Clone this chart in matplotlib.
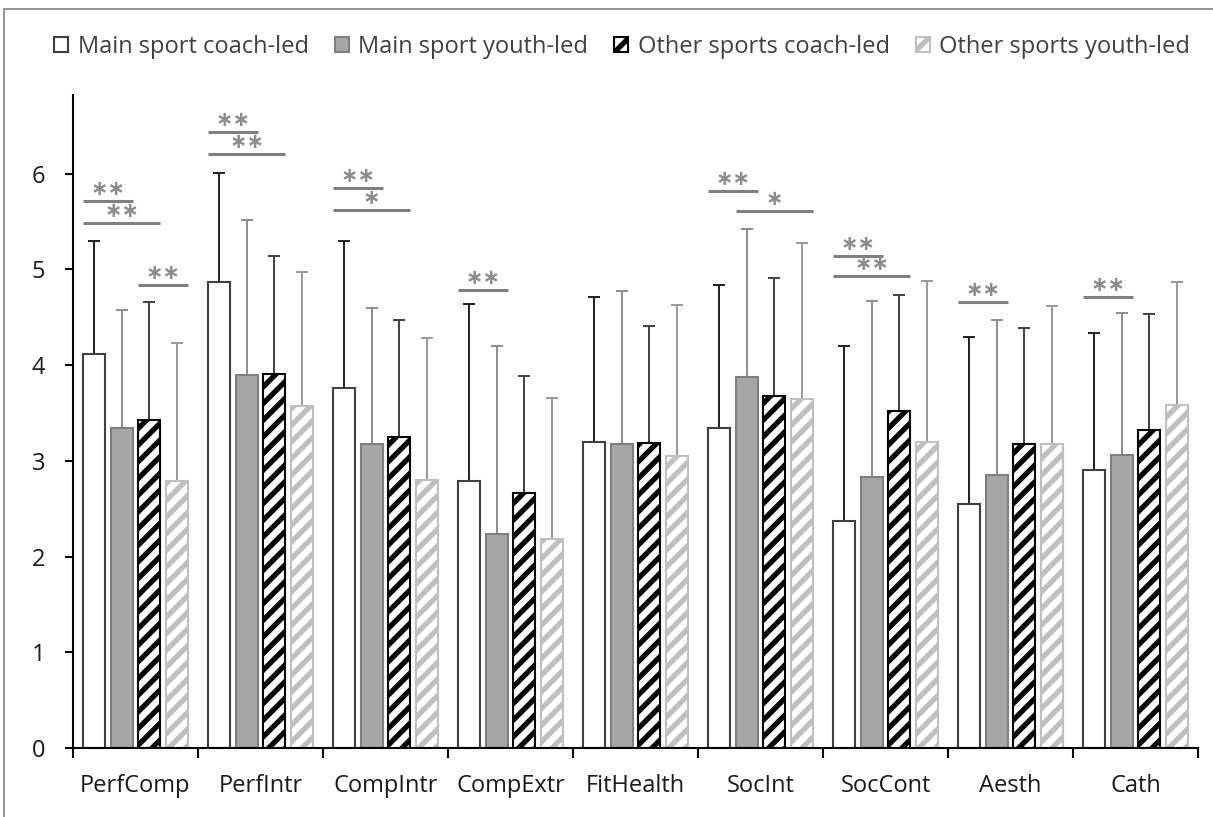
import numpy as np
import matplotlib
matplotlib.use("Agg")
import matplotlib.pyplot as plt
from matplotlib.patches import Rectangle

# data
categories = ["PerfComp", "PerfIntr", "CompIntr", "CompExtr", "FitHealth",
              "SocInt", "SocCont", "Aesth", "Cath"]
series = ["Main sport coach-led", "Main sport youth-led",
          "Other sports coach-led", "Other sports youth-led"]

main_coach = [4.11, 4.87, 3.76, 2.79, 3.20, 3.34, 2.37, 2.55, 2.90]
main_youth = [3.34, 3.90, 3.18, 2.23, 3.18, 3.87, 2.83, 2.85, 3.06]
other_coach = [3.43, 3.91, 3.25, 2.66, 3.19, 3.68, 3.52, 3.17, 3.32]
other_youth = [2.79, 3.57, 2.80, 2.18, 3.05, 3.64, 3.20, 3.18, 3.58]

# upper end of error bars
main_coach_top = [5.30, 6.01, 5.30, 4.64, 4.71, 4.84, 4.20, 4.29, 4.33]
main_youth_top = [4.57, 5.51, 4.60, 4.20, 4.77, 5.42, 4.67, 4.47, 4.54]
other_coach_top = [4.66, 5.14, 4.47, 3.89, 4.41, 4.91, 4.73, 4.39, 4.53]
other_youth_top = [4.23, 4.97, 4.28, 3.66, 4.63, 5.27, 4.88, 4.62, 4.87]

# significance brackets: (category, first bar, last bar, height, label)
sig = [
    (0, 0, 1, 5.71, "**"), (0, 0, 2, 5.48, "**"), (0, 2, 3, 4.84, "**"),
    (1, 0, 1, 6.43, "**"), (1, 0, 2, 6.20, "**"),
    (2, 0, 1, 5.85, "**"), (2, 0, 2, 5.62, "*"),
    (3, 0, 1, 4.78, "**"),
    (5, 0, 1, 5.82, "**"), (5, 1, 3, 5.61, "*"),
    (6, 0, 1, 5.14, "**"), (6, 0, 2, 4.93, "**"),
    (7, 0, 1, 4.66, "**"),
    (8, 0, 1, 4.71, "**"),
]

plt.rcParams["font.family"] = ["Open Sans", "DejaVu Sans"]
plt.rcParams["hatch.linewidth"] = 3.8

fig = plt.figure(figsize=(12.13, 8.17), dpi=100)
ax = fig.add_axes([73 / 1213, 69 / 817, 1125 / 1213, 653 / 817])

x = np.arange(len(categories))
step = 0.22
width = 0.176

means = [main_coach, main_youth, other_coach, other_youth]
tops = [main_coach_top, main_youth_top, other_coach_top, other_youth_top]
faces = ["white", "#a6a6a6", "white", "white"]
edges = ["#404040", "#7f7f7f", "black", "#bfbfbf"]
hatches = [None, None, "//", "//"]
err_cols = ["#202020", "#8c8c8c", "#404040", "#999999"]

for i in range(4):
    pos = x + (i - 1.5) * step
    m = np.array(means[i])
    up = np.array(tops[i]) - m
    ax.bar(pos, m, width, color=faces[i], edgecolor=edges[i], hatch=hatches[i],
           linewidth=1.5, label=series[i], zorder=2)
    ax.errorbar(pos, m, yerr=[np.zeros_like(up), up], fmt="none",
                ecolor=err_cols[i], elinewidth=1.4, capsize=4.5, capthick=1.4,
                zorder=1)

for cat, b0, b1, h, lab in sig:
    x0 = cat + (b0 - 1.5) * step - width / 2
    x1 = cat + (b1 - 1.5) * step + width / 2
    ax.plot([x0, x1], [h, h], color="#808080", lw=2.2, solid_capstyle="butt",
            zorder=3)
    ax.text((x0 + x1) / 2, h + 0.02, lab.replace("*", "\u2217"), ha="center",
            va="bottom", color="#8c8c8c", fontsize=15, family="DejaVu Sans",
            fontweight="bold")

ax.set_xlim(-0.5, len(categories) - 0.5)
ax.set_ylim(0, 6.82)
ax.set_yticks(range(0, 7))
ax.set_xticks(x)
ax.set_xticklabels(categories, fontsize=17, color="#1a1a1a")
ax.set_xticks(np.arange(-0.5, len(categories)), minor=True)
ax.tick_params(axis="x", which="major", length=0, pad=19)
ax.tick_params(axis="x", which="minor", length=7, width=1.5)
ax.tick_params(axis="y", length=6, width=1.5, labelsize=17, pad=14,
               labelcolor="#1a1a1a")
for s in ["top", "right"]:
    ax.spines[s].set_visible(False)
for s in ["left", "bottom"]:
    ax.spines[s].set_linewidth(1.5)

fig.legend(loc="center", bbox_to_anchor=(0.513, 1 - 47 / 817), ncol=4,
           frameon=False, fontsize=17, handlelength=0.6, handleheight=0.6,
           handletextpad=0.4, columnspacing=1.1, labelcolor="#404040")

fig.patches.append(Rectangle((4 / 1213, -0.1), 1.2, 1 - 9 / 817 + 0.1,
                             transform=fig.transFigure, fill=False,
                             edgecolor="#7f7f7f", lw=1.2))

fig.savefig("out.png", dpi=100)
